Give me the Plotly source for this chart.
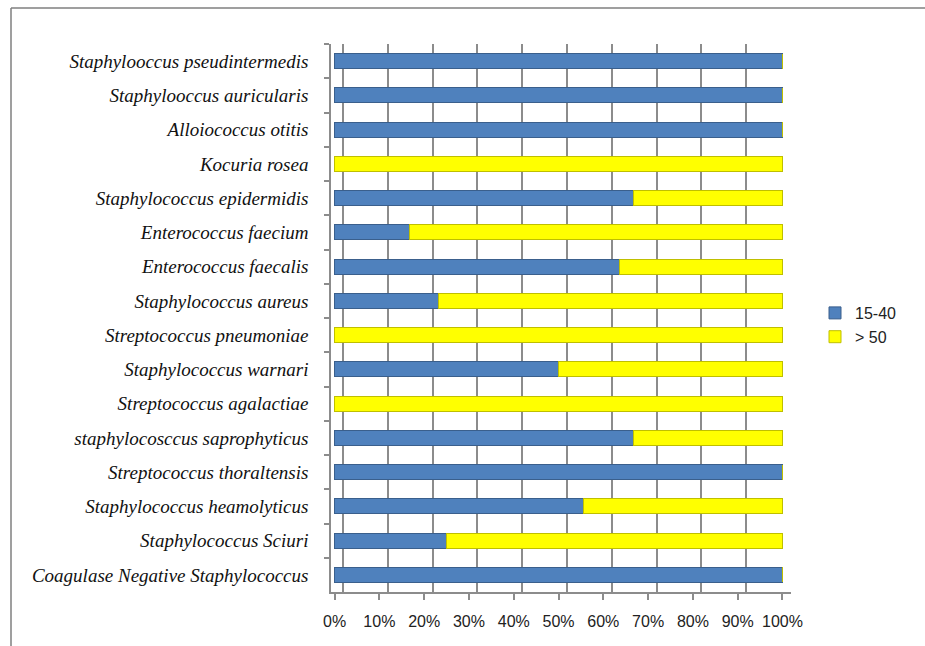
import plotly.graph_objects as go

# Organisms, listed top to bottom
organisms = [
    "Staphylooccus pseudintermedis",
    "Staphylooccus auricularis",
    "Alloiococcus otitis",
    "Kocuria rosea",
    "Staphylococcus epidermidis",
    "Enterococcus faecium",
    "Enterococcus faecalis",
    "Staphylococcus aureus",
    "Streptococcus pneumoniae",
    "Staphylococcus warnari",
    "Streptococcus agalactiae",
    "staphylocosccus saprophyticus",
    "Streptococcus thoraltensis",
    "Staphylococcus heamolyticus",
    "Staphylococcus Sciuri",
    "Coagulase Negative Staphylococcus",
]

# Share of isolates per age group (%)
age_15_40 = [100, 100, 100, 0, 66.7, 16.7, 63.6, 23.1, 0, 50, 0, 66.7, 100, 55.6, 25, 100]
age_over_50 = [0, 0, 0, 100, 33.3, 83.3, 36.4, 76.9, 100, 50, 100, 33.3, 0, 44.4, 75, 0]

tick_vals = [0, 10, 20, 30, 40, 50, 60, 70, 80, 90, 100]
tick_text = ["0%", "10%", "20%", "30%", "40%", "50%", "60%", "70%", "80%", "90%", "100%"]

BLUE = "#4F81BD"
YELLOW = "#FFFF00"
GRID = "#8C8C8C"

W, H = 925, 646
L, R, T, B = 331, 134, 44, 54
PW, PH = W - L - R, H - T - B

fig = go.Figure()
fig.add_trace(go.Bar(
    y=organisms, x=age_15_40, name="15-40", orientation="h",
    marker=dict(color=BLUE, line=dict(color="#3A5F8C", width=1)),
    width=0.44, legendgroup="a",
))
fig.add_trace(go.Bar(
    y=organisms, x=age_over_50, name="> 50", orientation="h",
    marker=dict(color=YELLOW, line=dict(color="#BFBF00", width=1)),
    width=0.44, legendgroup="b",
))
# invisible trace carrying the back-wall gridlines
fig.add_trace(go.Scatter(x=[0], y=[organisms[0]], xaxis="x2", mode="markers",
                         marker=dict(opacity=0), showlegend=False, hoverinfo="skip"))

# chart frame: top and left edges, running to the page edges
frame_left = (11 - L) / PW
frame_top = (T + PH - 8) / PH
frame_right = (W - L) / PW
frame_bottom = (T + PH - H) / PH
frame = dict(color="#7F7F7F", width=1.5)

fig.update_layout(
    barmode="stack",
    width=W, height=H,
    margin=dict(l=L, r=R, t=T, b=B),
    paper_bgcolor="white",
    plot_bgcolor="rgba(0,0,0,0)",
    font=dict(family="Liberation Sans, Arial, sans-serif", color="#222222"),
    xaxis=dict(
        range=[-0.8, 101.9],
        tickvals=tick_vals, ticktext=tick_text,
        showgrid=False, zeroline=False,
        showline=True, linecolor=GRID, linewidth=1.5,
        ticks="outside", ticklen=6, tickcolor=GRID, tickwidth=1.5,
        ticklabelstandoff=8,
        tickfont=dict(size=16, color="#222222"),
    ),
    xaxis2=dict(
        range=[-2.68, 100.02], overlaying="x", anchor="y",
        tickvals=tick_vals, showticklabels=False,
        showgrid=True, gridcolor=GRID, gridwidth=1.5,
        zeroline=False, showline=False, ticks="",
    ),
    yaxis=dict(
        range=[len(organisms) - 0.5, -0.5],
        categoryorder="array", categoryarray=organisms,
        showgrid=False, zeroline=False,
        showline=True, linecolor=GRID, linewidth=1.5,
        ticks="outside", ticklen=5, tickcolor=GRID, tickwidth=1.5,
        tickson="boundaries", ticklabelstandoff=17,
        tickfont=dict(family="Liberation Serif, Times New Roman, serif",
                      size=19, style="italic", color="#111111"),
    ),
    legend=dict(
        xref="container", yref="container",
        x=815 / W, y=1 - 296 / H, xanchor="left", yanchor="top",
        font=dict(size=16, color="#222222"),
        tracegroupgap=6, traceorder="normal",
        bgcolor="rgba(0,0,0,0)",
    ),
    shapes=[
        dict(type="line", xref="paper", yref="paper",
             x0=frame_left, x1=frame_right, y0=frame_top, y1=frame_top, line=frame),
        dict(type="line", xref="paper", yref="paper",
             x0=frame_left, x1=frame_left, y0=frame_top, y1=frame_bottom, line=frame),
    ],
)

fig.write_html("out.html")
